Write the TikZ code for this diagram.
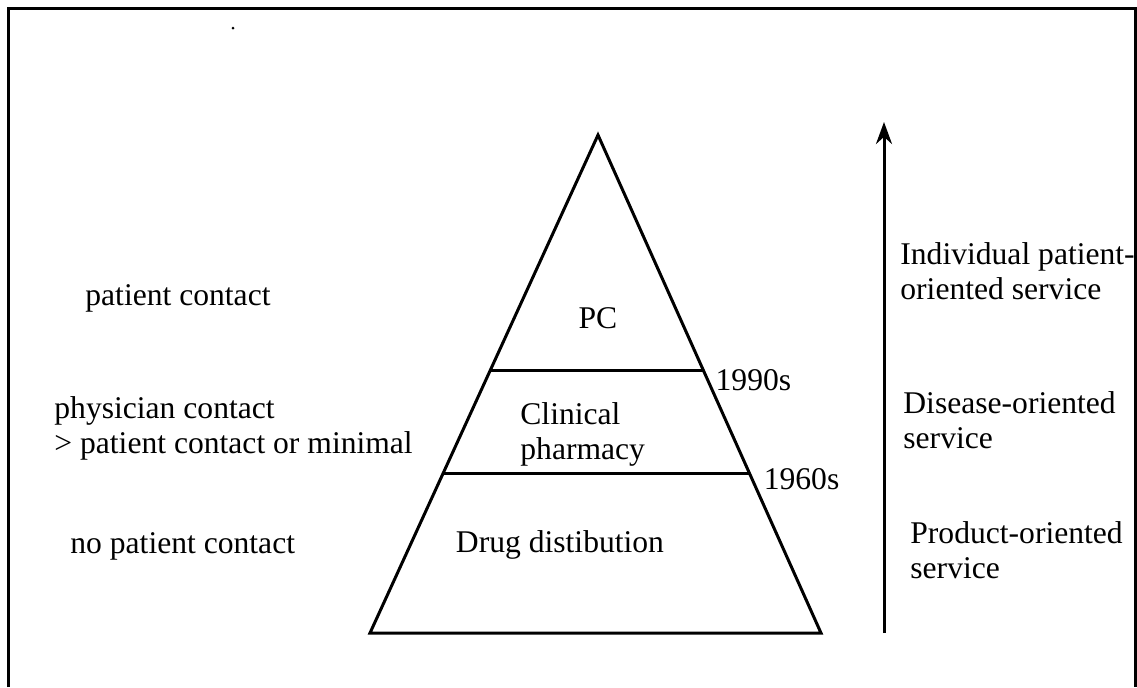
\documentclass[tikz,border=0pt]{standalone}
\usepackage{fontspec}
\setmainfont{Liberation Serif}
\usepackage{tikz}
\usetikzlibrary{positioning, calc, arrows.meta}

\tikzset{
  lbl/.style={font=\fontsize{15.8}{17.5}\selectfont, align=left, inner sep=0pt},
  edge/.style={line width=1.5pt, line join=miter}
}

\begin{document}
\begin{tikzpicture}[x=0.5pt, y=-0.5pt]
  \useasboundingbox (0,0) rectangle (1137,687);

  % outer frame (open at the bottom)
  \draw[line width=1.5pt] (8,687) -- (8,8) -- (1135,8) -- (1135,687);
  \fill (233,28) circle (1.5);

  % pyramid
  \coordinate (apex) at (598,135);
  \coordinate (bl) at (370,633);
  \coordinate (br) at (821,633);
  \draw[edge] (apex) -- (bl) -- (br) -- cycle;

  % levels
  \coordinate (l1) at ($(apex)!0.472!(bl)$);
  \coordinate (r1) at ($(apex)!0.472!(br)$);
  \coordinate (l2) at ($(apex)!0.679!(bl)$);
  \coordinate (r2) at ($(apex)!0.679!(br)$);
  \draw[edge] (l1) -- (r1);
  \draw[edge] (l2) -- (r2);

  \node[lbl] (pc) at (598,318) {PC};
  \node[lbl, anchor=west] (clin) at (520,434) {Clinical\\pharmacy};
  \node[lbl] (drug) at (560,545) {Drug distibution};

  \node[lbl, anchor=west] (y1990) at ($(r1)+(12,10)$) {1990s};
  \node[lbl, anchor=west] (y1960) at ($(r2)+(14,6)$) {1960s};

  % left side
  \node[lbl, anchor=west] (contact) at (85,298) {patient contact};
  \node[lbl, anchor=west] (phys) at (54,428) {physician contact\\> patient contact or minimal};
  \node[lbl, anchor=west] (none) at (70,546) {no patient contact};

  % right side
  \coordinate (abot) at (884,633);
  \coordinate (atop) at (884,122);
  \draw[line width=1.5pt, -{Stealth[length=11pt, width=8pt]}] (abot) -- (atop);

  \node[lbl, anchor=west] (indiv) at (900,271) {Individual patient-\\oriented service};
  \node[lbl, anchor=west] (dis) at (903,420) {Disease-oriented\\service};
  \node[lbl, anchor=west] (prod) at (910,550) {Product-oriented\\service};
\end{tikzpicture}
\end{document}
